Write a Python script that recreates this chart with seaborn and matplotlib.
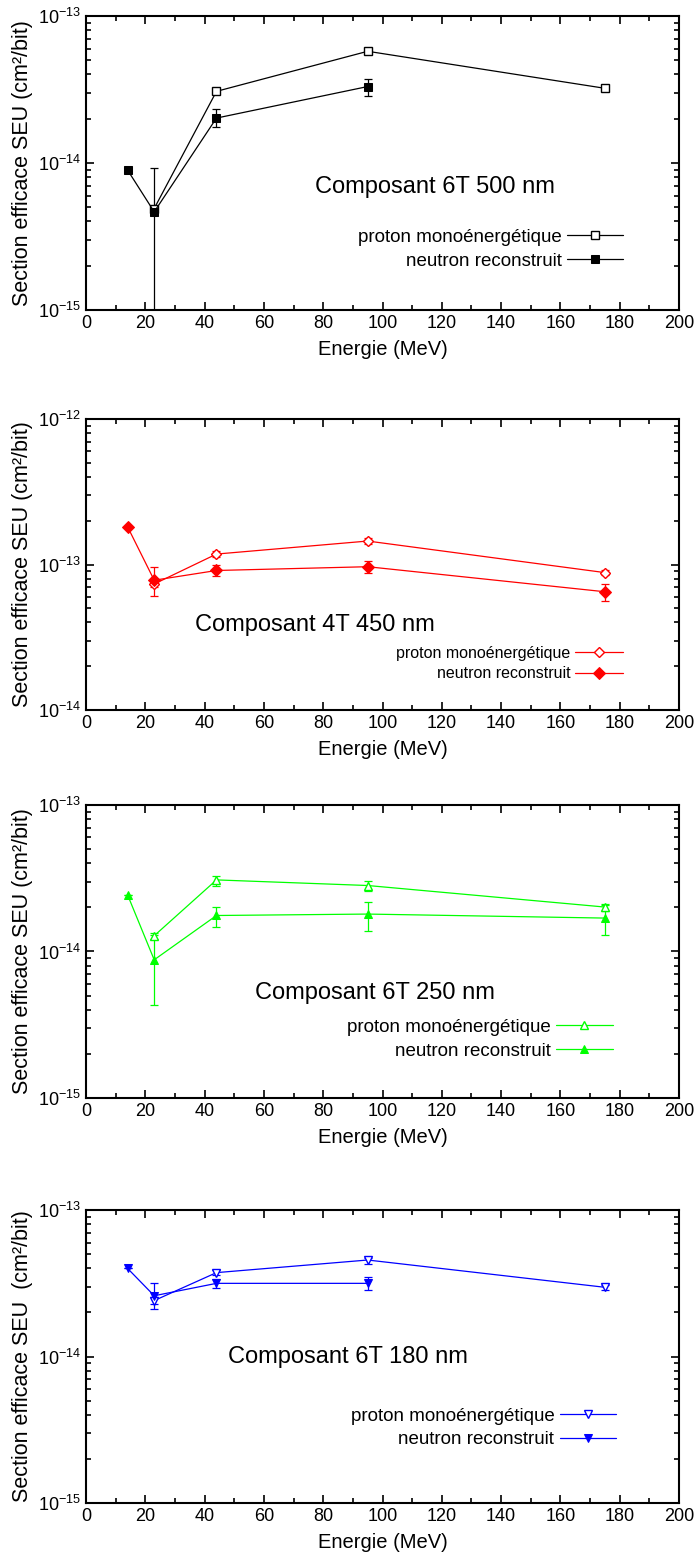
import matplotlib
matplotlib.use("Agg")
import matplotlib.pyplot as plt
import matplotlib.ticker as mticker
import seaborn as sns
import numpy as np

# energies (MeV)
energy_p = [23, 44, 95, 175]
energy_n = [14, 23, 44, 95, 175]

# --- Composant 6T 500 nm
p500 = [4.9e-15, 3.07e-14, 5.75e-14, 3.22e-14]
p500_lo = [4.7e-15, 2.95e-14, 5.6e-14, 3.15e-14]
p500_hi = [5.1e-15, 3.2e-14, 5.9e-14, 3.3e-14]
n500_e = [14, 23, 44, 95]
n500 = [8.96e-15, 4.65e-15, 2.02e-14, 3.31e-14]
n500_lo = [8.96e-15, 5e-16, 1.75e-14, 2.86e-14]
n500_hi = [8.96e-15, 9.3e-15, 2.32e-14, 3.7e-14]

# --- Composant 4T 450 nm
p450 = [7.35e-14, 1.18e-13, 1.45e-13, 8.8e-14]
p450_lo = [7.0e-14, 1.13e-13, 1.39e-13, 8.45e-14]
p450_hi = [7.7e-14, 1.23e-13, 1.51e-13, 9.15e-14]
n450 = [1.82e-13, 7.8e-14, 9.1e-14, 9.66e-14, 6.5e-14]
n450_lo = [1.82e-13, 6.1e-14, 8.3e-14, 8.7e-14, 5.6e-14]
n450_hi = [1.82e-13, 9.6e-14, 1.0e-13, 1.05e-13, 7.35e-14]

# --- Composant 6T 250 nm
p250 = [1.28e-14, 3.08e-14, 2.82e-14, 2.01e-14]
p250_lo = [1.22e-14, 2.8e-14, 2.6e-14, 1.9e-14]
p250_hi = [1.34e-14, 3.3e-14, 3.04e-14, 2.12e-14]
n250 = [2.44e-14, 8.77e-15, 1.76e-14, 1.8e-14, 1.69e-14]
n250_lo = [2.44e-14, 4.34e-15, 1.48e-14, 1.39e-14, 1.3e-14]
n250_hi = [2.44e-14, 1.3e-14, 2.02e-14, 2.17e-14, 2.09e-14]

# --- Composant 6T 180 nm
p180 = [2.41e-14, 3.74e-14, 4.56e-14, 2.97e-14]
p180_lo = [2.1e-14, 3.6e-14, 4.3e-14, 2.85e-14]
p180_hi = [2.55e-14, 3.9e-14, 4.7e-14, 3.1e-14]
n180_e = [14, 23, 44, 95]
n180 = [4.0e-14, 2.6e-14, 3.16e-14, 3.16e-14]
n180_lo = [4.0e-14, 2.3e-14, 2.95e-14, 2.84e-14]
n180_hi = [4.0e-14, 3.16e-14, 3.38e-14, 3.5e-14]

panels = [
    dict(title="Composant 6T 500 nm", color="black", mk="s", ylim=(1e-15, 1e-13),
         pe=energy_p, p=p500, plo=p500_lo, phi=p500_hi,
         ne=n500_e, n=n500, nlo=n500_lo, nhi=n500_hi,
         ylabel="Section efficace SEU (cm²/bit)",
         box=[0.1234, 0.8018, 0.8508, 0.1880], tpos=(0.386, 0.418),
         leg=(0.906, 0.207), lsize=13.5),
    dict(title="Composant 4T 450 nm", color="#ff0000", mk="D", ylim=(1e-14, 1e-12),
         pe=energy_p, p=p450, plo=p450_lo, phi=p450_hi,
         ne=energy_n, n=n450, nlo=n450_lo, nhi=n450_hi,
         ylabel="Section efficace SEU (cm²/bit)",
         box=[0.1234, 0.5460, 0.8508, 0.1861], tpos=(0.184, 0.292),
         leg=(0.906, 0.16), lsize=11.5),
    dict(title="Composant 6T 250 nm", color="#00ff00", mk="^", ylim=(1e-15, 1e-13),
         pe=energy_p, p=p250, plo=p250_lo, phi=p250_hi,
         ne=energy_n, n=n250, nlo=n250_lo, nhi=n250_hi,
         ylabel="Section efficace SEU (cm²/bit)",
         box=[0.1234, 0.2980, 0.8508, 0.1873], tpos=(0.285, 0.357),
         leg=(0.888, 0.20), lsize=13.5),
    dict(title="Composant 6T 180 nm", color="#0000ff", mk="v", ylim=(1e-15, 1e-13),
         pe=energy_p, p=p180, plo=p180_lo, phi=p180_hi,
         ne=n180_e, n=n180, nlo=n180_lo, nhi=n180_hi,
         ylabel="Section efficace SEU  (cm²/bit)",
         box=[0.1234, 0.0390, 0.8508, 0.1873], tpos=(0.239, 0.498),
         leg=(0.894, 0.256), lsize=13.5),
]

sns.set_theme(style="ticks")
plt.rcParams['font.family'] = ['Liberation Sans', 'DejaVu Sans']
plt.rcParams['mathtext.default'] = 'regular'
plt.rcParams['text.color'] = 'black'
plt.rcParams['axes.labelcolor'] = 'black'

fig = plt.figure(figsize=(6.97, 15.64), dpi=100)

for pn in panels:
    ax = fig.add_axes(pn["box"])
    c = pn["color"]
    # error bars
    for xs, ys, lo, hi in [(pn["pe"], pn["p"], pn["plo"], pn["phi"]),
                           (pn["ne"], pn["n"], pn["nlo"], pn["nhi"])]:
        ys = np.array(ys)
        yerr = [ys - np.array(lo), np.array(hi) - ys]
        ax.errorbar(xs, ys, yerr=yerr, fmt="none", ecolor=c, elinewidth=0.9,
                    capsize=3.2, capthick=0.9, zorder=2)
    sns.lineplot(x=pn["pe"], y=pn["p"], ax=ax, color=c, lw=0.9, marker=pn["mk"],
                 markersize=5.5, markerfacecolor="white", markeredgecolor=c,
                 markeredgewidth=1.0, label="proton monoénergétique", zorder=3)
    sns.lineplot(x=pn["ne"], y=pn["n"], ax=ax, color=c, lw=0.9, marker=pn["mk"],
                 markersize=6, markerfacecolor=c, markeredgecolor=c,
                 label="neutron reconstruit", zorder=4)
    ax.set_yscale("log")
    ax.set_xlim(0, 200)
    ax.set_ylim(*pn["ylim"])
    ax.xaxis.set_major_locator(mticker.MultipleLocator(20))
    ax.xaxis.set_minor_locator(mticker.MultipleLocator(10))
    ax.yaxis.set_major_locator(mticker.LogLocator(base=10))
    ax.yaxis.set_minor_locator(mticker.LogLocator(base=10, subs=np.arange(2, 10)))
    ax.yaxis.set_minor_formatter(mticker.NullFormatter())
    ax.tick_params(which="both", direction="in", top=True, right=True,
                   width=1.2, colors="black", labelsize=13)
    ax.tick_params(which="major", length=6)
    ax.tick_params(which="minor", length=3.5)
    for s in ax.spines.values():
        s.set_linewidth(1.5)
        s.set_color("black")
    ax.set_xlabel("Energie (MeV)", fontsize=14.5, labelpad=6)
    ax.set_ylabel(pn["ylabel"], fontsize=15.5)
    ax.yaxis.set_label_coords(-0.09, 0.5)
    ax.text(pn["tpos"][0], pn["tpos"][1], pn["title"], transform=ax.transAxes,
            fontsize=17, ha="left", va="center", color="black")
    ax.legend(loc="center right", bbox_to_anchor=pn["leg"], markerfirst=False,
              frameon=False, fontsize=pn["lsize"], handlelength=3.0,
              handletextpad=0.3, borderpad=0, borderaxespad=0, labelspacing=0.35)

fig.savefig("out.png", dpi=100)
